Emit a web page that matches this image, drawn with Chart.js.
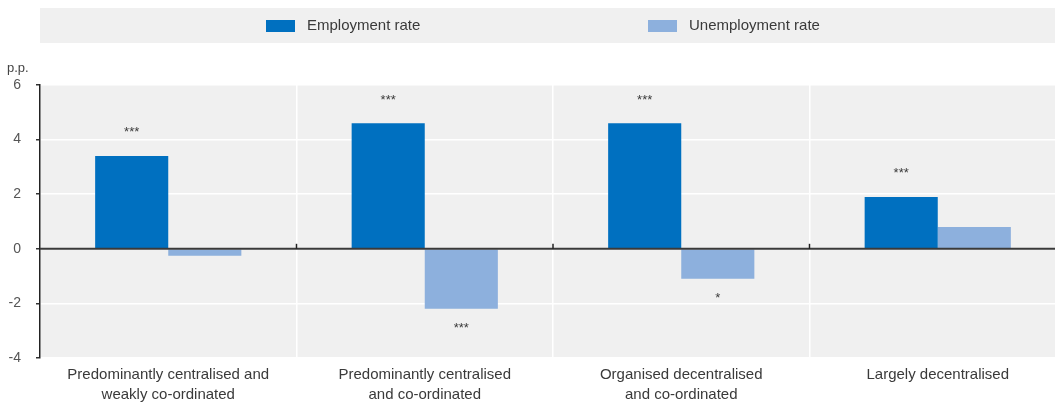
<!DOCTYPE html>
<html>
<head>
<meta charset="utf-8">
<script src="https://cdn.jsdelivr.net/npm/chart.js@4/dist/chart.umd.min.js"></script>
<style>
  html, body { margin: 0; padding: 0; background: #fff; overflow: hidden; }
  #wrap { width: 1055px; height: 402px; overflow: hidden; position: relative; }
  #chart { display: block; }
</style>
</head>
<body>
<div id="wrap"><canvas id="chart" width="1068" height="402"></canvas></div>
<script>
// Bargaining system categories (multi-line axis labels)
const categories = [
  ["Predominantly centralised and", "weakly co-ordinated"],
  ["Predominantly centralised", "and co-ordinated"],
  ["Organised decentralised", "and co-ordinated"],
  ["Largely decentralised"]
];
// Percentage-point differences
const employmentRate = [3.4, 4.6, 4.6, 1.9];
const unemploymentRate = [-0.25, -2.2, -1.1, 0.8];
// Significance markers
const employmentSignif = ["***", "***", "***", "***"];
const unemploymentSignif = ["", "***", "*", ""];
// Value axis
const yMin = -4, yMax = 6, yStep = 2;
const yUnit = "p.p.";

const EMP_COLOR = "#0070c0";
const UNEMP_COLOR = "#8db0dd";
const PANEL = "#f0f0f0";
const TEXT = "#3a3a3a";
const FONT = "'Liberation Sans', Arial, sans-serif";

const panelPlugin = {
  id: "panel",
  beforeDraw(chart) {
    const { ctx, chartArea: a } = chart;
    ctx.save();
    // legend band
    ctx.fillStyle = PANEL;
    ctx.fillRect(40, 8, chart.width - 40, 35);
    // plot background
    ctx.fillRect(a.left, a.top, a.right - a.left, a.bottom - a.top);
    // legend entries
    ctx.font = "15px " + FONT;
    ctx.textBaseline = "middle";
    const items = [[266, chart.data.datasets[0]], [648, chart.data.datasets[1]]];
    items.forEach(([x, ds]) => {
      ctx.fillStyle = ds.backgroundColor;
      ctx.fillRect(x, 20, 29, 12);
      ctx.fillStyle = TEXT;
      ctx.fillText(ds.label, x + 41, 26);
    });
    // unit label
    ctx.font = "13px " + FONT;
    ctx.fillStyle = "#444";
    ctx.textAlign = "left";
    ctx.fillText(yUnit, 7, 68);
    ctx.restore();
  },
  afterDatasetsDraw(chart) {
    const { ctx, chartArea: a } = chart;
    const y = chart.scales.y, x = chart.scales.x;
    const y0 = y.getPixelForValue(0);
    ctx.save();
    // zero line
    ctx.strokeStyle = "#3a3a3a";
    ctx.lineWidth = 2;
    ctx.beginPath();
    ctx.moveTo(a.left, y0);
    ctx.lineTo(a.right, y0);
    ctx.stroke();
    // category separator ticks on the zero line
    ctx.lineWidth = 1.5;
    ctx.strokeStyle = "#222";
    for (let i = 1; i < categories.length; i++) {
      const bx = (x.getPixelForValue(i - 1) + x.getPixelForValue(i)) / 2;
      ctx.beginPath();
      ctx.moveTo(bx, y0);
      ctx.lineTo(bx, y0 - 5);
      ctx.stroke();
    }
    // significance markers
    ctx.font = "13px " + FONT;
    ctx.fillStyle = TEXT;
    ctx.textAlign = "center";
    ctx.textBaseline = "alphabetic";
    const marks = [employmentSignif, unemploymentSignif];
    marks.forEach((list, di) => {
      const meta = chart.getDatasetMeta(di);
      list.forEach((s, i) => {
        if (!s) return;
        const el = meta.data[i];
        const v = chart.data.datasets[di].data[i];
        const ty = v >= 0 ? el.y - 19.5 : el.y + 23.5;
        ctx.fillText(s, el.x, ty);
      });
    });
    ctx.restore();
  }
};

new Chart(document.getElementById("chart"), {
  type: "bar",
  data: {
    labels: categories,
    datasets: [
      { label: "Employment rate", data: employmentRate, backgroundColor: EMP_COLOR },
      { label: "Unemployment rate", data: unemploymentRate, backgroundColor: UNEMP_COLOR }
    ]
  },
  options: {
    responsive: false,
    animation: false,
    devicePixelRatio: 1,
    layout: { padding: { top: 85, right: 2, left: 0, bottom: 0 } },
    plugins: { legend: { display: false }, tooltip: { enabled: false } },
    datasets: { bar: { categoryPercentage: 0.57, barPercentage: 1.0, borderWidth: 0 } },
    scales: {
      x: {
        offset: true,
        grid: { offset: true, color: "#ffffff", lineWidth: 1.5, drawTicks: false },
        border: { display: false },
        ticks: { color: TEXT, font: { family: FONT, size: 15, lineHeight: 1.33 }, padding: 7, maxRotation: 0, autoSkip: false },
        afterFit(s) { s.height = 44; }
      },
      y: {
        min: yMin, max: yMax,
        ticks: { stepSize: yStep, color: "#555", font: { family: FONT, size: 14 }, padding: 15 },
        grid: { color: "#ffffff", lineWidth: 1.5, tickColor: "#333", tickLength: 4 },
        border: { display: true, color: "#222", width: 1.5 },
        afterFit(s) { s.width = 40; }
      }
    }
  },
  plugins: [panelPlugin]
});
</script>
</body>
</html>
